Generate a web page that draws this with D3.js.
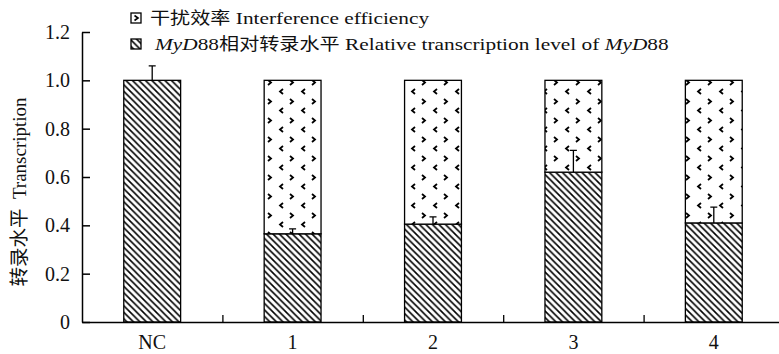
<!DOCTYPE html>
<html>
<head>
<meta charset="utf-8">
<script src="https://cdn.jsdelivr.net/npm/d3@7"></script>
<style>
  html, body { margin: 0; padding: 0; background: #fff; }
  svg { display: block; }
  text { fill: #111; }
</style>
</head>
<body>
<svg id="chart" width="779" height="354"></svg>
<script>
// ---- data ----
const categories = ["NC", "1", "2", "3", "4"];
const transcription = [1.0, 0.365, 0.405, 0.62, 0.41];
const interference = [0.0, 0.635, 0.595, 0.38, 0.59];
const errors = [0.06, 0.02, 0.03, 0.09, 0.065];
const yTicks = [0, 0.2, 0.4, 0.6, 0.8, 1.0, 1.2];
const legendLabels = ["干扰效率 Interference efficiency", "MyD88相对转录水平 Relative transcription level of MyD88"];
const yTitle = "转录水平  Transcription";

// ---- layout ----
const svg = d3.select("#chart");
const x0 = 82, x1 = 784, yBottom = 322, yTop = 32;
const serif = "'Liberation Serif','Times New Roman',serif";
const cjk = "'Noto Sans CJK SC','Noto Sans CJK JP',sans-serif";

const x = d3.scaleBand().domain(categories).range([x0, x1]).padding(0);
const xb = d3.scaleLinear().domain([0, categories.length]).range([x0, x1]);
const y = d3.scaleLinear().domain([0, 1.2]).range([yBottom, yTop]);
const barW = x.bandwidth() * 0.405;

// ---- patterns ----
const defs = svg.append("defs");
const hatch = defs.append("pattern").attr("id", "hatch")
  .attr("patternUnits", "userSpaceOnUse").attr("width", 6.5).attr("height", 6.5);
hatch.append("rect").attr("width", 6.5).attr("height", 6.5).attr("fill", "#fff");
hatch.append("path").attr("d", "M0,0 L6.5,6.5 M-2,4.5 L2,8.5 M4.5,-2 L8.5,2")
  .attr("stroke", "#000").attr("stroke-width", 1.6);

const dots = defs.append("pattern").attr("id", "dots")
  .attr("patternUnits", "userSpaceOnUse").attr("width", 22).attr("height", 19)
  .attr("x", 0).attr("y", 2);
dots.append("rect").attr("width", 22).attr("height", 19).attr("fill", "#fff");
dots.append("path").attr("d", "M4,2 L7,4.5 L4,7")
  .attr("fill", "none").attr("stroke", "#000").attr("stroke-width", 1.8);
dots.append("path").attr("d", "M19,11 L16,13.5 L19,16")
  .attr("fill", "none").attr("stroke", "#000").attr("stroke-width", 1.8);

// ---- bars ----
const data = categories.map((c, i) => ({c, t: transcription[i], f: interference[i], e: errors[i]}));
const g = svg.append("g");
const bx = d => x(d.c) + (x.bandwidth() - barW) / 2;

g.selectAll("rect.low").data(data).join("rect").attr("class", "low")
  .attr("x", bx).attr("width", barW)
  .attr("y", d => y(d.t)).attr("height", d => y(0) - y(d.t))
  .attr("fill", "url(#hatch)").attr("stroke", "#000").attr("stroke-width", 1.3);

g.selectAll("rect.up").data(data.filter(d => d.f > 0)).join("rect").attr("class", "up")
  .attr("x", bx).attr("width", barW)
  .attr("y", d => y(d.t + d.f)).attr("height", d => y(d.t) - y(d.t + d.f))
  .attr("fill", "url(#dots)").attr("stroke", "#000").attr("stroke-width", 1.3);

// error bars (upward only)
const cx = d => x(d.c) + x.bandwidth() / 2;
g.selectAll("path.err").data(data).join("path").attr("class", "err")
  .attr("d", d => `M${cx(d)},${y(d.t)} V${y(d.t + d.e)} M${cx(d) - 3.5},${y(d.t + d.e)} H${cx(d) + 3.5}`)
  .attr("stroke", "#000").attr("stroke-width", 1.3).attr("fill", "none");

// ---- axes ----
const yAxis = svg.append("g").attr("transform", `translate(${x0},0)`)
  .call(d3.axisLeft(y).tickValues(yTicks).tickSizeInner(-8).tickSizeOuter(0).tickPadding(12)
    .tickFormat(d => d === 0 ? "0" : d3.format(".1f")(d)));
yAxis.selectAll("text").attr("font-family", serif).attr("font-size", 20).attr("fill", "#111");
yAxis.selectAll("line, path").attr("stroke", "#000").attr("stroke-width", 1.5);

const xAxis = svg.append("g").attr("transform", `translate(0,${yBottom})`)
  .call(d3.axisBottom(x).tickSize(0).tickPadding(13));
xAxis.selectAll("text").attr("font-family", serif).attr("font-size", 20).attr("fill", "#111");
xAxis.select("path").attr("stroke", "#000").attr("stroke-width", 1.5);

const xTicks = svg.append("g").attr("transform", `translate(0,${yBottom})`)
  .call(d3.axisBottom(xb).tickValues([1, 2, 3, 4]).tickSizeInner(-7).tickSizeOuter(0).tickFormat(""));
xTicks.select("path").remove();
xTicks.selectAll("line").attr("stroke", "#000").attr("stroke-width", 1.3);

// ---- y title ----
const yt = svg.append("text").attr("transform", `translate(26,${192}) rotate(-90)`)
  .attr("text-anchor", "middle").attr("font-size", 19);
yt.append("tspan").attr("font-family", cjk).attr("font-size", 19.5).text(yTitle.split("  ")[0]);
yt.append("tspan").attr("font-family", serif).text("\u00a0\u00a0" + yTitle.split("  ")[1]);

// ---- legend ----
const leg = svg.append("g");
// box 1: interference
leg.append("rect").attr("x", 131).attr("y", 13).attr("width", 10).attr("height", 10)
  .attr("fill", "#fff").attr("stroke", "#000").attr("stroke-width", 1.3);
leg.append("path").attr("d", "M134.5,15.5 L138,18 L134.5,20.5")
  .attr("fill", "none").attr("stroke", "#000").attr("stroke-width", 1.6);
// box 2: transcription
leg.append("rect").attr("x", 131).attr("y", 39).attr("width", 10).attr("height", 10)
  .attr("fill", "url(#hatch)").attr("stroke", "#000").attr("stroke-width", 1.3);

function legText(yb, xs, parts) {
  const t = leg.append("text").attr("transform", `translate(${xs},${yb}) scale(1.22,1)`)
    .attr("font-size", 17.5).attr("font-family", serif);
  parts.forEach(p => {
    const s = t.append("tspan").text(p.s);
    if (p.cjk) s.attr("font-family", cjk).attr("font-size", 16.5);
    if (p.it) s.attr("font-style", "italic");
  });
}
const l1 = legendLabels[0].split(" ");
legText(24, 150, [{s: l1[0], cjk: true}, {s: " " + l1.slice(1).join(" ")}]);
const l2 = legendLabels[1];
legText(50, 155, [
  {s: "MyD", it: true}, {s: "88"}, {s: l2.slice(5, 11), cjk: true},
  {s: " Relative transcription level of "}, {s: "MyD", it: true}, {s: "88"}
]);
</script>
</body>
</html>
